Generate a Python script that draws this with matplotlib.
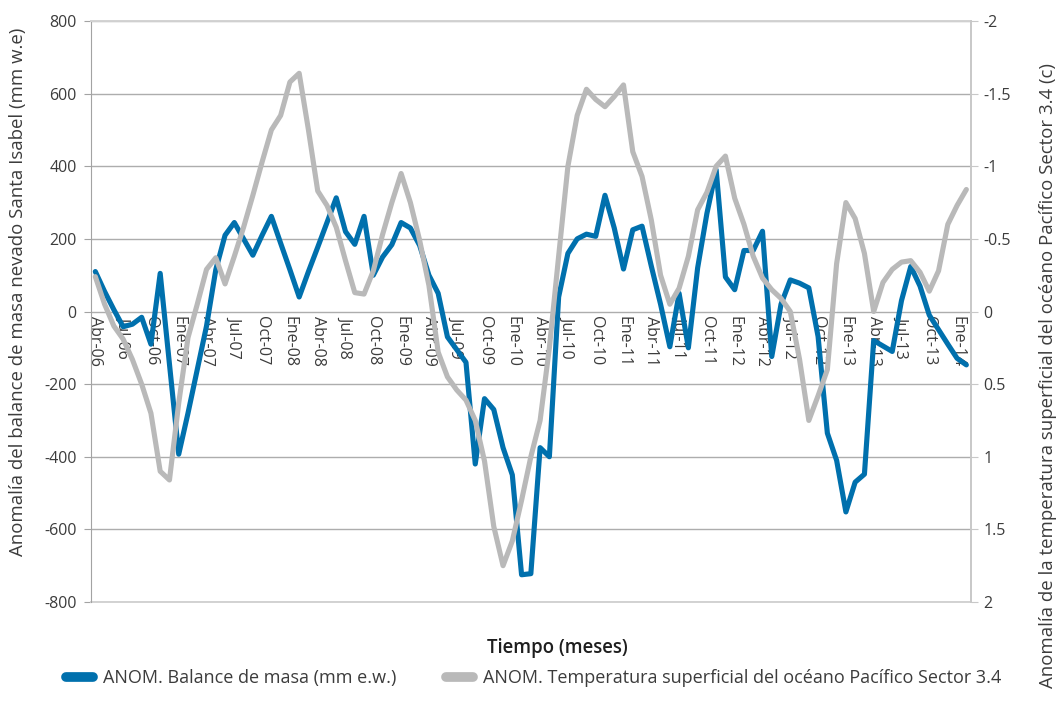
import matplotlib
matplotlib.use("Agg")
import matplotlib.pyplot as plt
from matplotlib.lines import Line2D
import numpy as np

# Monthly series, April 2006 .. February 2014
mass_balance = [
    110, 55, 5, -42, -35, -16, -90, 105, -145, -393,
    -280, -160, -40, 115, 210, 245, 200, 155, 210, 262,
    188, 115, 40, 110, 177, 245, 313, 220, 185, 262,
    100, 150, 184, 245, 230, 182, 100, 50, -70, -105,
    -140, -420, -240, -270, -375, -450, -725, -722, -375, -400,
    40, 160, 200, 213, 207, 320, 230, 117, 225, 235,
    125, 20, -97, 50, -100, 120, 270, 390, 95, 60,
    168, 168, 221, -124, 20, 87, 78, 65, -69, -335,
    -410, -552, -470, -448, -80, -95, -110, 30, 124, 70,
    -10, -50, -90, -129, -147,
]

sst_anomaly = [
    -0.24, -0.05, 0.10, 0.19, 0.33, 0.50, 0.70, 1.10, 1.16, 0.63,
    0.18, -0.05, -0.29, -0.37, -0.19, -0.38, -0.58, -0.80, -1.03, -1.25,
    -1.35, -1.58, -1.64, -1.25, -0.83, -0.73, -0.58, -0.35, -0.13, -0.12,
    -0.28, -0.53, -0.75, -0.95, -0.75, -0.49, -0.18, 0.28, 0.45, 0.54,
    0.61, 0.75, 1.03, 1.48, 1.75, 1.58, 1.30, 1.00, 0.75, 0.25,
    -0.38, -1.00, -1.35, -1.53, -1.46, -1.41, -1.48, -1.56, -1.10, -0.93,
    -0.63, -0.25, -0.05, -0.16, -0.38, -0.70, -0.82, -1.00, -1.07, -0.78,
    -0.60, -0.38, -0.23, -0.15, -0.09, 0.00, 0.33, 0.75, 0.58, 0.40,
    -0.33, -0.75, -0.64, -0.40, 0.00, -0.20, -0.29, -0.34, -0.35, -0.27,
    -0.14, -0.28, -0.60, -0.73, -0.84,
]

month_labels = [
    "Abr-06", "Jul-06", "Oct-06", "Ene-07", "Abr-07", "Jul-07", "Oct-07", "Ene-08",
    "Abr-08", "Jul-08", "Oct-08", "Ene-09", "Abr-09", "Jul-09", "Oct-09", "Ene-10",
    "Abr-10", "Jul-10", "Oct-10", "Ene-11", "Abr-11", "Jul-11", "Oct-11", "Ene-12",
    "Abr-12", "Jul-12", "Oct-12", "Ene-13", "Abr-13", "Jul-13", "Oct-13", "Ene-14",
]

left_ticks = [-800, -600, -400, -200, 0, 200, 400, 600, 800]
right_ticks = [-2, -1.5, -1, -0.5, 0, 0.5, 1, 1.5, 2]
right_tick_labels = ["-2", "-1.5", "-1", "-0.5", "0", "0.5", "1", "1.5", "2"]

BLUE = "#0070AD"
GREY = "#B9B9B9"
TEXT = "#3C3C3C"
GRID = "#ADADAD"

plt.rcParams["font.family"] = ["Open Sans", "DejaVu Sans"]
plt.rcParams["font.size"] = 11.5
TITLE_SIZE = 13.4
LEGEND_SIZE = 13.0

fig = plt.figure(figsize=(10.62, 7.17), dpi=100)
ax = fig.add_axes([0.0854, 0.1604, 0.8289, 0.8103])

x = np.arange(len(mass_balance))
ax.plot(x, mass_balance, color=BLUE, lw=3.7, solid_joinstyle="round",
        solid_capstyle="round", zorder=3)

ax.set_xlim(-0.5, len(mass_balance) - 0.5)
ax.set_ylim(-800, 800)
ax.set_yticks(left_ticks)
ax.set_yticklabels([str(v) for v in left_ticks])
ax.yaxis.grid(True, color=GRID, lw=1.0)
ax.set_axisbelow(True)

# month labels hang from the zero line
ax.spines["bottom"].set_position(("data", 0))
ax.spines["bottom"].set_visible(False)
ax.set_xticks(np.arange(0, 3 * len(month_labels), 3))
ax.set_xticklabels(month_labels, rotation=270, color=TEXT)
ax.tick_params(axis="x", length=0, pad=3)

ax.spines["top"].set_color("#D2D2D2")
ax.spines["top"].set_linewidth(1.4)
ax.spines["right"].set_visible(False)
ax.spines["left"].set_color("#A3A3A3")
ax.tick_params(axis="y", direction="out", length=5, color="#A3A3A3",
               labelcolor=TEXT, pad=5)
ax.axhline(-800, color="#D2D2D2", lw=1.4, zorder=1, clip_on=False)

ax2 = ax.twinx()
ax2.plot(x, sst_anomaly, color=GREY, lw=3.7, solid_joinstyle="round",
         solid_capstyle="round", zorder=3)
ax2.set_ylim(2, -2)
ax2.set_yticks(right_ticks)
ax2.set_yticklabels(right_tick_labels)
for side in ("top", "bottom", "left"):
    ax2.spines[side].set_visible(False)
ax2.spines["right"].set_color("#C8C8C8")
ax2.spines["right"].set_linewidth(1.4)
ax2.tick_params(axis="y", direction="out", length=5, color="#C8C8C8",
                labelcolor=TEXT, pad=4)

fig.text(18 / 1062, 1 - 292 / 717,
         "Anomalía del balance de masa nevado Santa Isabel (mm w.e)",
         rotation=90, ha="center", va="center", color=TEXT, fontsize=TITLE_SIZE)
fig.text(1048 / 1062, 1 - 376 / 717,
         "Anomalía de la temperatura superficial del océano Pacífico Sector 3.4 (c)",
         rotation=90, ha="center", va="center", color=TEXT, fontsize=TITLE_SIZE)
fig.text(557 / 1062, 1 - 648 / 717, "Tiempo (meses)", ha="center", va="center",
         color="#1E1E1E", fontweight="semibold", fontsize=TITLE_SIZE)

handles = [
    Line2D([], [], color=BLUE, lw=7, solid_capstyle="round"),
    Line2D([], [], color=GREY, lw=7, solid_capstyle="round"),
]
fig.legend(handles,
           ["ANOM. Balance de masa (mm e.w.)",
            "ANOM. Temperatura superficial del océano Pacífico Sector 3.4"],
           loc="center left", bbox_to_anchor=(50 / 1062, 1 - 678 / 717),
           ncol=2, frameon=False, handlelength=1.5, handletextpad=0.55,
           columnspacing=2.75, labelcolor=TEXT, fontsize=LEGEND_SIZE)

fig.savefig("out.png", dpi=100)
